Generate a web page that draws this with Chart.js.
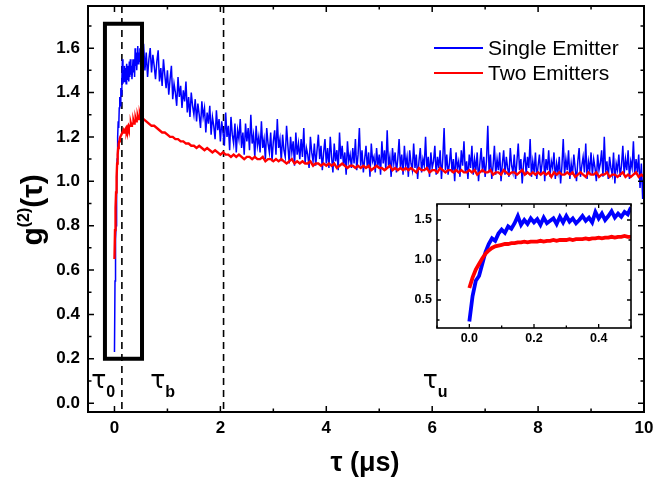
<!DOCTYPE html>
<html>
<head>
<meta charset="utf-8">
<script src="https://cdn.jsdelivr.net/npm/chart.js@4.4.1/dist/chart.umd.min.js"></script>
<style>
  body { margin: 0; background: #fff; }
  #wrap { position: relative; width: 655px; height: 481px; }
  #mainChart { position: absolute; left: 0; top: 0; }
  #insetChart { position: absolute; left: 390px; top: 195px; }
</style>
</head>
<body>
<div id="wrap">
  <canvas id="mainChart" width="655" height="481"></canvas>
  <canvas id="insetChart" width="255" height="160"></canvas>
</div>
<script>
// g2(tau) histograms
// early part: 0 .. 0.5 us in 0.01 us bins, then coarser bins up to 10 us
const earlyStep = 0.01
const singleLateStart = 0.525
const singleLateStep = 0.025
const twoLateStart = 0.55
const twoLateStep = 0.05

const singleEarly = [
  0.23, 0.55, 0.74, 0.80, 0.95, 1.10, 1.20, 1.27, 1.24, 1.33,
  1.38, 1.34, 1.42, 1.39, 1.46, 1.55, 1.44, 1.50, 1.45, 1.52,
  1.47, 1.51, 1.44, 1.53, 1.46, 1.49, 1.52, 1.45, 1.54, 1.47,
  1.55, 1.48, 1.52, 1.46, 1.50, 1.55, 1.49, 1.53, 1.47, 1.60,
  1.52, 1.58, 1.50, 1.55, 1.61, 1.53, 1.58, 1.54, 1.60, 1.57, 1.66
]
const twoEarly = [
  0.65, 0.78, 0.88, 0.95, 1.02, 1.08, 1.12, 1.15, 1.17, 1.18,
  1.19, 1.20, 1.20, 1.21, 1.21, 1.22, 1.22, 1.23, 1.22, 1.23,
  1.23, 1.23, 1.24, 1.23, 1.24, 1.24, 1.25, 1.24, 1.25, 1.25,
  1.25, 1.26, 1.25, 1.26, 1.26, 1.26, 1.27, 1.26, 1.27, 1.27,
  1.28, 1.27, 1.28, 1.28, 1.29, 1.28, 1.29, 1.29, 1.30, 1.29, 1.29
]
const singleLate = [
  1.56, 1.62, 1.50, 1.58, 1.47, 1.55, 1.60, 1.49, 1.57, 1.52,
  1.46, 1.54, 1.59, 1.45, 1.51, 1.43, 1.55, 1.48, 1.42, 1.50,
  1.39, 1.46, 1.52, 1.37, 1.44, 1.40, 1.34, 1.47, 1.38, 1.43,
  1.33, 1.41, 1.36, 1.45, 1.31, 1.38, 1.29, 1.40, 1.34, 1.30,
  1.37, 1.27, 1.35, 1.30, 1.24, 1.36, 1.29, 1.33, 1.22, 1.31,
  1.26, 1.34, 1.21, 1.29, 1.25, 1.19, 1.32, 1.23, 1.28, 1.18,
  1.27, 1.22, 1.16, 1.31, 1.20, 1.25, 1.14, 1.29, 1.21, 1.17,
  1.26, 1.13, 1.23, 1.19, 1.28, 1.15, 1.22, 1.12, 1.26, 1.18,
  1.24, 1.14, 1.30, 1.17, 1.21, 1.11, 1.25, 1.16, 1.20, 1.13,
  1.27, 1.15, 1.19, 1.10, 1.24, 1.17, 1.13, 1.22, 1.09, 1.18,
  1.23, 1.12, 1.28, 1.15, 1.19, 1.09, 1.21, 1.14, 1.11, 1.25,
  1.16, 1.08, 1.20, 1.13, 1.18, 1.07, 1.22, 1.12, 1.17, 1.10,
  1.19, 1.11, 1.24, 1.08, 1.15, 1.12, 1.06, 1.20, 1.13, 1.09,
  1.17, 1.07, 1.14, 1.21, 1.10, 1.16, 1.05, 1.13, 1.19, 1.08,
  1.15, 1.06, 1.20, 1.11, 1.04, 1.17, 1.09, 1.14, 1.05, 1.22,
  1.10, 1.16, 1.07, 1.13, 1.03, 1.18, 1.09, 1.12, 1.06, 1.15,
  1.08, 1.19, 1.05, 1.12, 1.24, 1.07, 1.14, 1.04, 1.10, 1.16,
  1.06, 1.13, 1.02, 1.17, 1.09, 1.11, 1.04, 1.15, 1.07, 1.12,
  1.03, 1.18, 1.08, 1.14, 1.05, 1.23, 1.07, 1.11, 1.02, 1.15,
  1.08, 1.13, 1.04, 1.10, 1.19, 1.06, 1.12, 1.03, 1.16, 1.07,
  1.11, 1.02, 1.14, 1.08, 1.05, 1.17, 1.06, 1.12, 1.01, 1.09,
  1.15, 1.04, 1.10, 1.07, 1.20, 1.05, 1.11, 1.02, 1.13, 1.06,
  1.09, 1.16, 1.03, 1.11, 1.06, 1.14, 1.01, 1.10, 1.24, 1.05,
  1.12, 1.03, 1.08, 1.15, 1.04, 1.10, 1.00, 1.13, 1.06, 1.09,
  1.02, 1.14, 1.07, 1.18, 1.04, 1.09, 1.01, 1.12, 1.06, 1.16,
  1.03, 1.10, 1.05, 1.13, 1.00, 1.08, 1.15, 1.04, 1.11, 1.02,
  1.09, 1.25, 1.04, 1.12, 1.01, 1.07, 1.16, 1.03, 1.10, 1.05,
  1.13, 1.00, 1.08, 1.14, 1.03, 1.11, 1.06, 1.02, 1.15, 1.07,
  1.04, 1.12, 1.01, 1.09, 1.17, 1.05, 1.10, 0.99, 1.08, 1.13,
  1.03, 1.11, 1.06, 1.19, 1.02, 1.09, 1.04, 1.13, 1.01, 1.07,
  1.12, 1.03, 1.08, 1.15, 1.00, 1.10, 1.05, 1.14, 1.02, 1.09,
  1.06, 1.13, 1.01, 1.08, 1.04, 1.11, 0.99, 1.07, 1.19, 1.03,
  1.10, 1.05, 1.14, 1.01, 1.08, 1.03, 1.12, 1.06, 1.00, 1.09,
  1.15, 1.02, 1.07, 1.11, 1.04, 1.17, 1.01, 1.09, 1.05, 1.13,
  1.03, 1.10, 1.06, 1.00, 1.12, 1.05, 1.08, 1.14, 1.02, 1.20,
  1.04, 1.09, 1.01, 1.11, 1.06, 1.03, 1.13, 0.99, 1.08, 1.05,
  1.12, 1.02, 1.07, 1.16, 1.03, 1.10, 1.05, 1.14, 1.01, 1.09,
  1.06, 1.18, 1.03, 1.10, 1.04, 1.12, 0.97, 1.08, 0.92, 1.05
]
const twoLate = [
  1.28, 1.27, 1.26, 1.25, 1.25, 1.24, 1.23, 1.22, 1.22, 1.21,
  1.20, 1.20, 1.19, 1.19, 1.18, 1.18, 1.17, 1.17, 1.16, 1.16,
  1.15, 1.16, 1.15, 1.14, 1.15, 1.14, 1.13, 1.14, 1.13, 1.12,
  1.13, 1.12, 1.12, 1.11, 1.12, 1.11, 1.12, 1.11, 1.10, 1.11,
  1.11, 1.10, 1.11, 1.10, 1.10, 1.11, 1.09, 1.10, 1.10, 1.09,
  1.10, 1.09, 1.10, 1.09, 1.08, 1.09, 1.10, 1.08, 1.09, 1.08,
  1.09, 1.08, 1.08, 1.09, 1.07, 1.08, 1.08, 1.07, 1.08, 1.07,
  1.08, 1.07, 1.08, 1.06, 1.07, 1.08, 1.07, 1.06, 1.07, 1.07,
  1.06, 1.07, 1.06, 1.07, 1.06, 1.07, 1.05, 1.06, 1.07, 1.06,
  1.06, 1.05, 1.06, 1.07, 1.05, 1.06, 1.05, 1.06, 1.05, 1.06,
  1.05, 1.06, 1.05, 1.04, 1.06, 1.05, 1.05, 1.06, 1.04, 1.05,
  1.05, 1.04, 1.06, 1.05, 1.04, 1.05, 1.05, 1.04, 1.05, 1.04,
  1.05, 1.04, 1.04, 1.05, 1.04, 1.05, 1.03, 1.04, 1.05, 1.04,
  1.04, 1.05, 1.03, 1.04, 1.04, 1.03, 1.05, 1.04, 1.03, 1.04,
  1.04, 1.03, 1.04, 1.05, 1.03, 1.04, 1.03, 1.04, 1.03, 1.04,
  1.03, 1.04, 1.03, 1.04, 1.02, 1.04, 1.03, 1.04, 1.03, 1.03,
  1.04, 1.03, 1.04, 1.02, 1.03, 1.04, 1.03, 1.02, 1.04, 1.03,
  1.03, 1.04, 1.02, 1.03, 1.03, 1.04, 1.02, 1.03, 1.03, 1.02,
  1.03, 1.04, 1.02, 1.03, 1.02, 1.03, 1.04, 1.02, 1.03, 1.02
]

const xTicks = [0, 2, 4, 6, 8, 10]
const xMinorTicks = [1, 3, 5, 7, 9]
const yTicks = [0, 0.2, 0.4, 0.6, 0.8, 1.0, 1.2, 1.4, 1.6]
const yMinorTicks = [0.1, 0.3, 0.5, 0.7, 0.9, 1.1, 1.3, 1.5, 1.7]
const insetXTicks = [0, 0.2, 0.4]
const insetXMinorTicks = [-0.1, 0.1, 0.3, 0.5]
const insetYTicks = [0.5, 1.0, 1.5]
const insetYMinorTicks = [0.25, 0.75, 1.25]

// annotations (data coordinates)
const markerTaus = [0.14, 2.06]
const zoomBoxTau = [-0.18, 0.52]
const zoomBoxG = [0.2, 1.71]
const tauNames = ['0', 'b', 'u']
const tauNameAt = [-0.44, 0.675, 5.82]

const FONT = '"Liberation Sans", Arial, sans-serif'
const BLUE = '#0000ff'
const RED = '#ff0000'

function toPoints(early, late, lateStart, lateStep, upTo) {
  var pts = []
  early.forEach((v, i) => pts.push({ x: +(i * earlyStep).toFixed(3), y: v }))
  late.forEach((v, i) => pts.push({ x: +(lateStart + i * lateStep).toFixed(3), y: v }))
  if (upTo !== undefined) pts = pts.filter(p => p.x <= upTo)
  return pts
}

// closed frame with inward ticks on all four sides
function drawFrame(chart, t) {
  const ctx = chart.ctx
  const a = chart.chartArea
  const xs = chart.scales.x
  const ys = chart.scales.y
  ctx.save()
  ctx.strokeStyle = '#000'
  ctx.lineWidth = t.tickWidth
  ctx.beginPath()
  const xm = t.xMajor.map(v => [v, t.major]).concat(t.xMinor.map(v => [v, t.minor]))
  xm.forEach(([v, len]) => {
    const px = xs.getPixelForValue(v)
    ctx.moveTo(px, a.bottom); ctx.lineTo(px, a.bottom - len)
    ctx.moveTo(px, a.top); ctx.lineTo(px, a.top + len)
  })
  const ym = t.yMajor.map(v => [v, t.major]).concat(t.yMinor.map(v => [v, t.minor]))
  ym.forEach(([v, len]) => {
    const py = ys.getPixelForValue(v)
    ctx.moveTo(a.left, py); ctx.lineTo(a.left + len, py)
    ctx.moveTo(a.right, py); ctx.lineTo(a.right - len, py)
  })
  ctx.stroke()
  ctx.lineWidth = t.frameWidth
  ctx.strokeRect(a.left, a.top, a.right - a.left, a.bottom - a.top)
  ctx.restore()
}

function scaleOpts(min, max, values, fmt, fontSize, pad, size) {
  return {
    type: 'linear', min: min, max: max,
    grid: { display: false, drawTicks: false },
    border: { display: false },
    afterBuildTicks: s => { s.ticks = values.map(v => ({ value: v })) },
    afterFit: s => {
      if (s.isHorizontal()) s.height = size
      else s.width = size
      // labels never sit on the edges here, so no extra room for them
      s.paddingLeft = s.paddingRight = s.paddingTop = s.paddingBottom = 0
    },
    ticks: {
      autoSkip: false, maxRotation: 0, padding: pad, color: '#000',
      font: { family: FONT, size: fontSize, weight: 'bold' },
      callback: fmt
    }
  }
}

const mainDecor = {
  id: 'mainDecor',
  beforeDatasetsDraw(chart) {
    const ctx = chart.ctx, a = chart.chartArea, xs = chart.scales.x
    ctx.save()
    ctx.strokeStyle = '#000'
    ctx.lineWidth = 1.6
    ctx.setLineDash([7, 5])
    markerTaus.forEach(t => {
      const px = xs.getPixelForValue(t)
      ctx.beginPath(); ctx.moveTo(px, a.top); ctx.lineTo(px, a.bottom); ctx.stroke()
    })
    ctx.restore()
  },
  afterDatasetsDraw(chart) {
    const ctx = chart.ctx, xs = chart.scales.x, ys = chart.scales.y
    ctx.save()
    // zoom window box
    ctx.strokeStyle = '#000'
    ctx.lineWidth = 4
    const bx0 = xs.getPixelForValue(zoomBoxTau[0]), bx1 = xs.getPixelForValue(zoomBoxTau[1])
    const by0 = ys.getPixelForValue(zoomBoxG[1]), by1 = ys.getPixelForValue(zoomBoxG[0])
    ctx.strokeRect(bx0, by0, bx1 - bx0, by1 - by0)

    // tau labels
    ctx.fillStyle = '#000'
    ctx.textBaseline = 'alphabetic'
    const base = ys.getPixelForValue(0.07)
    tauNames.forEach((n, i) => {
      const px = xs.getPixelForValue(tauNameAt[i])
      ctx.font = '25px "DejaVu Sans"'
      ctx.fillText('τ', px, base)
      const w = ctx.measureText('τ').width
      ctx.font = 'bold 16px ' + FONT
      ctx.fillText(n, px + w, base + 9)
    })

    // legend
    const items = [['Single Emitter', BLUE], ['Two Emitters', RED]]
    items.forEach(([label, col], i) => {
      const y = 48 + i * 25
      ctx.strokeStyle = col
      ctx.lineWidth = 2
      ctx.beginPath(); ctx.moveTo(434, y); ctx.lineTo(483, y); ctx.stroke()
      ctx.font = '21px ' + FONT
      ctx.fillText(label, 488, y + 7)
    })
    ctx.restore()
  },
  afterDraw(chart) {
    drawFrame(chart, { xMajor: xTicks, xMinor: xMinorTicks, yMajor: yTicks, yMinor: yMinorTicks,
      major: 6, minor: 3.5, tickWidth: 1.5, frameWidth: 2 })
    const ctx = chart.ctx
    ctx.save()
    ctx.fillStyle = '#000'
    ctx.textBaseline = 'alphabetic'
    // x title
    ctx.font = 'bold 27px ' + FONT
    ctx.textAlign = 'center'
    ctx.fillText('τ (μs)', 365, 471)
    // y title g(2)(tau), rotated
    ctx.translate(42, 210)
    ctx.rotate(-Math.PI / 2)
    ctx.textAlign = 'left'
    ctx.font = 'bold 30px ' + FONT
    const gW = ctx.measureText('g').width
    const tW = ctx.measureText('(τ)').width
    ctx.font = 'bold 16px ' + FONT
    const sW = ctx.measureText('(2)').width
    let x0 = -(gW + sW + tW) / 2
    ctx.font = 'bold 30px ' + FONT
    ctx.fillText('g', x0, 0)
    ctx.font = 'bold 16px ' + FONT
    ctx.fillText('(2)', x0 + gW, -13)
    ctx.font = 'bold 30px ' + FONT
    ctx.fillText('(τ)', x0 + gW + sW, 0)
    ctx.restore()
  }
}

new Chart(document.getElementById('mainChart'), {
  type: 'line',
  data: {
    datasets: [
      { label: 'Two Emitters', data: toPoints(twoEarly, twoLate, twoLateStart, twoLateStep),
        borderColor: RED, borderWidth: 2.4, pointRadius: 0 },
      { label: 'Single Emitter', data: toPoints(singleEarly, singleLate, singleLateStart, singleLateStep),
        borderColor: BLUE, borderWidth: 1.5, pointRadius: 0 }
    ]
  },
  options: {
    responsive: false,
    animation: false,
    events: [],
    layout: { padding: { top: 6, right: 11, left: 0, bottom: 0 } },
    plugins: { legend: { display: false }, tooltip: { enabled: false } },
    scales: {
      x: scaleOpts(-0.5, 10, xTicks, v => String(v), 17, 6, 69),
      y: scaleOpts(-0.04, 1.79, yTicks, v => v.toFixed(1), 17, 8, 88)
    }
  },
  plugins: [mainDecor]
})

const insetDecor = {
  id: 'insetDecor',
  afterDraw(chart) {
    drawFrame(chart, { xMajor: insetXTicks, xMinor: insetXMinorTicks, yMajor: insetYTicks, yMinor: insetYMinorTicks,
      major: 4, minor: 2.5, tickWidth: 1.3, frameWidth: 1.6 })
  }
}

new Chart(document.getElementById('insetChart'), {
  type: 'line',
  data: {
    datasets: [
      { label: 'Two Emitters', data: toPoints(twoEarly, twoLate, twoLateStart, twoLateStep, 0.5),
        borderColor: RED, borderWidth: 3.8, pointRadius: 0 },
      { label: 'Single Emitter', data: toPoints(singleEarly, singleLate, singleLateStart, singleLateStep, 0.5),
        borderColor: BLUE, borderWidth: 3.8, pointRadius: 0 }
    ]
  },
  options: {
    responsive: false,
    animation: false,
    events: [],
    layout: { padding: { top: 9, right: 14, left: 0, bottom: 0 } },
    plugins: { legend: { display: false }, tooltip: { enabled: false } },
    scales: {
      x: scaleOpts(-0.1, 0.5, insetXTicks, v => v.toFixed(1), 12.5, 3, 27),
      y: scaleOpts(0.15, 1.7, insetYTicks, v => v.toFixed(1), 12.5, 5, 47)
    }
  },
  plugins: [insetDecor]
})
</script>
</body>
</html>
